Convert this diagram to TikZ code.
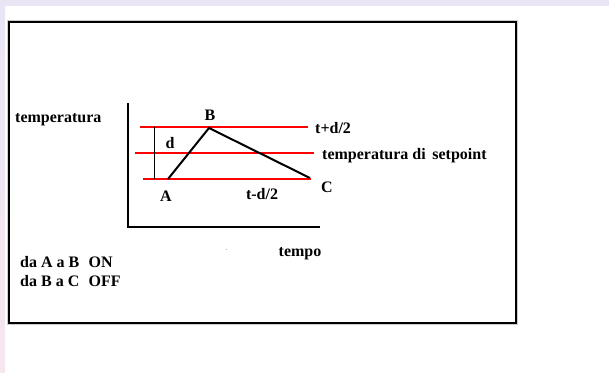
\documentclass[tikz,border=0pt]{standalone}
\usepackage{fontspec}
\setmainfont{Liberation Serif}
\definecolor{lav}{HTML}{E9E5F5}
\definecolor{pinkish}{HTML}{F6E6EF}
\definecolor{redline}{HTML}{FF0000}
\begin{document}
\begin{tikzpicture}[x=1pt,y=-1pt,
  lbl/.style={font=\bfseries\fontsize{16}{18}\selectfont, inner sep=0pt},
  rline/.style={draw=redline, line width=1.2pt},
  bline/.style={draw=black, line width=2pt}]
\useasboundingbox (0,0) rectangle (609,372);
\fill[lav] (0,0) rectangle (609,6);
\shade[top color=lav, bottom color=pinkish] (0,6) rectangle (5,372);
% frame
\draw[gray!40, line width=1pt] (7,20) rectangle (517,324);
\draw[black, line width=2pt] (8.5,21.5) rectangle (515.5,322.5);
% axes
\coordinate (yt) at (128,103);
\coordinate (o) at (128,227);
\coordinate (xe) at (320,227);
\draw[line width=1.2pt] (yt) -- (o) -- (xe);
% red lines
\coordinate (r1a) at (140,127); \coordinate (r1b) at (308,127);
\coordinate (r2a) at (135,153); \coordinate (r2b) at (314,153);
\coordinate (r3a) at (143,179); \coordinate (r3b) at (311,179);
\draw[rline] (r1a) -- (r1b);
\draw[rline] (r2a) -- (r2b);
\draw[rline] (r3a) -- (r3b);
% d bar
\coordinate (d1) at (154,127); \coordinate (d2) at (154,179);
\draw[line width=0.6pt] (d1) -- (d2);
% trajectory
\coordinate (pA) at (168,179);
\coordinate (pB) at (209,128);
\coordinate (pC) at (310,178);
\draw[bline, line join=miter] (pA) -- (pB) -- (pC);
% labels
\node[lbl] (lB) at (210,115) {B};
\node[lbl] (ld) at (170,143) {d};
\node[lbl] (lA) at (166,196) {A};
\node[lbl] (ltm) at (262,194) {t-d/2};
\node[lbl] (lC) at (327,187) {C};
\node[lbl, anchor=west] (ltp) at (315,128) {t+d/2};
\node[lbl, anchor=west] (lset) at (322,156) {temperatura di\, setpoint};
\node[lbl] (ltempo) at (300,254) {tempo};
\node[lbl, anchor=west] (ltemp) at (15,120) {temperatura};
\node[lbl, anchor=west] (lon) at (20,262) {da A a B\,\, ON};
\node[lbl, anchor=west] (loff) at (20,281) {da B a C\,\, OFF};
\fill[gray!60] (225.5,248.5) rectangle (227,250);
\end{tikzpicture}
\end{document}
